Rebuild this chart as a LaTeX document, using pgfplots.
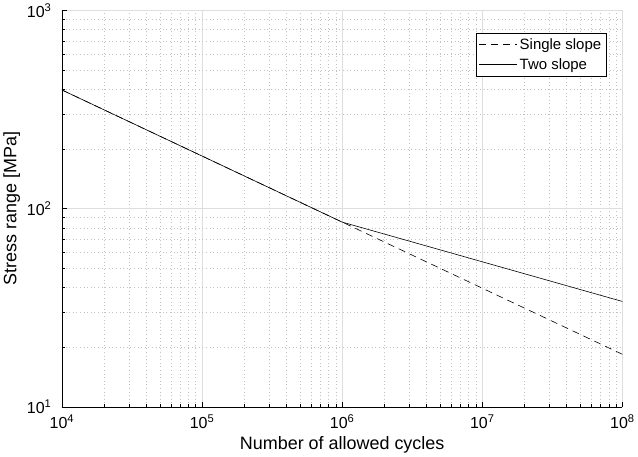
\documentclass[border=0pt]{standalone}
\usepackage{pgfplots}
\pgfplotsset{compat=1.18}
\usepackage{fontspec}
\setmainfont{Liberation Sans}
\begin{document}
\begin{tikzpicture}
\begin{axis}[
  scale only axis, width=560bp, height=396bp,
  xmode=log, ymode=log,
  xmin=1e4, xmax=1e8, ymin=10, ymax=1000,
  axis x line*=bottom, axis y line*=left,
  axis line style={black, line width=0.6pt, -},
  tick align=inside,
  major tick length=5bp, minor tick length=3bp,
  tick style={black, line width=0.5pt},
  xtick={1e4,1e5,1e6,1e7,1e8}, ytick={10,100,1000},
  xticklabels={10\textsuperscript{4},10\textsuperscript{5},10\textsuperscript{6},10\textsuperscript{7},10\textsuperscript{8}},
  yticklabels={10\textsuperscript{1},10\textsuperscript{2},10\textsuperscript{3}},
  grid=both,
  major grid style={color=black!13, line width=0.6pt},
  minor grid style={color=black!24, line width=0.5pt, dash pattern=on 0.8bp off 2.8bp},
  xlabel={Number of allowed cycles}, ylabel={Stress range [MPa]},
  label style={font=\fontsize{18}{20}\selectfont},
  tick label style={font=\fontsize{16}{18}\selectfont},
  xticklabel style={yshift=-4bp},
  yticklabel style={xshift=-7bp},
  xlabel style={yshift=-1bp},
  ylabel style={yshift=0bp},
  legend style={at={(0.9715,0.943)}, anchor=north east, draw=black, line width=0.5pt,
    font=\fontsize{15}{17}\selectfont, inner xsep=3bp, inner ysep=3bp, row sep=4bp},
  legend cell align=left,
  legend image code/.code={\draw[#1, line width=0.6pt] (0bp,0bp) -- (38bp,0bp);},
]
\addplot[black, line width=0.6pt, dash pattern=on 7bp off 5bp] coordinates {(1e4,397) (1e6,85.5) (1e8,18.4)};
\addlegendentry{Single slope}
\addplot[black, line width=0.6pt] coordinates {(1e4,397) (1e6,85.5) (1e8,34.0)};
\addlegendentry{Two slope}
\end{axis}
\end{tikzpicture}
\end{document}
